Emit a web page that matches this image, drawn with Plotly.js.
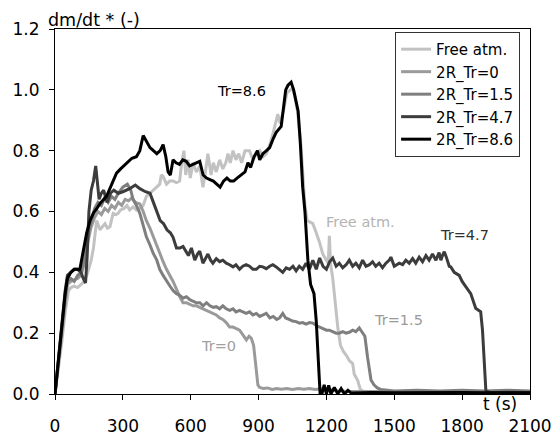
<!DOCTYPE html>
<html>
<head>
<meta charset="utf-8">
<script src="https://cdn.plot.ly/plotly-3.0.1.min.js"></script>
<style>html,body{margin:0;padding:0;background:#fff;}#chart{width:552px;height:438px;}</style>
</head>
<body>
<div id="chart"></div>
<script>
// Series names
const seriesNames = ["Free atm.", "2R_Tr=0", "2R_Tr=1.5", "2R_Tr=4.7", "2R_Tr=8.6"];
const seriesColors = ["#c2c2c2", "#9a9a9a", "#7f7f7f", "#3c3c3c", "#000000"];

// Free atm.
const tFree = [0,15,30,45,60,70,85,100,115,130,145,160,170,184,199,210,221,232,243,257,270,279,290,305,318,330,345,360,375,390,404,420,434,450,463,470,478,493,507,522,537,551,560,570,578,588,598,610,625,640,654,665,676,690,700,713,728,742,755,765,775,787,800,812,825,840,860,875,890,905,920,935,950,965,985,995,1010,1025,1040,1050,1060,1072,1085,1095,1105,1115,1130,1140,1150,1160,1169,1184,1198,1208,1213,1218,1228,1235,1250,1262,1275,1290,1301,1316,1323,1338,1350,1365,1400,1500,1600,1700,1800,1900,2000,2100];
const vFree = [0,0.08,0.17,0.27,0.34,0.35,0.355,0.35,0.36,0.37,0.40,0.44,0.48,0.57,0.54,0.55,0.56,0.545,0.55,0.594,0.59,0.594,0.605,0.61,0.62,0.605,0.615,0.605,0.61,0.62,0.65,0.66,0.67,0.68,0.69,0.72,0.715,0.69,0.70,0.70,0.695,0.70,0.76,0.80,0.72,0.77,0.71,0.76,0.73,0.75,0.68,0.73,0.79,0.72,0.76,0.73,0.77,0.74,0.76,0.79,0.76,0.80,0.77,0.79,0.76,0.80,0.80,0.77,0.79,0.80,0.78,0.79,0.82,0.86,0.92,0.89,0.93,0.99,1.0,1.005,0.98,0.93,0.84,0.72,0.62,0.57,0.565,0.56,0.54,0.52,0.50,0.46,0.44,0.43,0.52,0.43,0.38,0.33,0.22,0.16,0.14,0.125,0.11,0.10,0.065,0.045,0.015,0.008,0.006,0.005,0.006,0.005,0.005,0.006,0.005,0.005];

// 2R_Tr=0
const tTr0 = [0,15,30,45,55,70,85,100,115,130,145,160,175,190,205,220,235,250,265,280,295,310,325,340,355,375,390,404,420,434,450,463,478,493,508,522,537,551,566,581,596,610,625,640,655,670,685,700,713,728,742,757,772,787,800,816,830,846,858,868,878,885,890,897,904,920,940,960,980,1000,1025,1050,1075,1100,1125,1150,1175,1200,1250,1300,1400,1500,1600,1700,1800,1900,2000,2100];
const vTr0 = [0,0.1,0.2,0.3,0.36,0.37,0.375,0.38,0.39,0.43,0.5,0.55,0.58,0.6,0.59,0.61,0.6,0.62,0.61,0.63,0.62,0.64,0.635,0.645,0.63,0.625,0.6,0.57,0.545,0.517,0.49,0.46,0.435,0.41,0.39,0.37,0.345,0.32,0.3,0.3,0.295,0.29,0.29,0.285,0.28,0.275,0.27,0.265,0.26,0.25,0.245,0.235,0.22,0.22,0.215,0.21,0.195,0.178,0.19,0.183,0.16,0.11,0.068,0.03,0.022,0.018,0.02,0.015,0.018,0.016,0.018,0.015,0.018,0.016,0.018,0.015,0.017,0.016,0.01,0.008,0.008,0.007,0.008,0.007,0.008,0.007,0.008,0.007];

// 2R_Tr=1.5
const tTr15 = [0,15,30,45,55,70,85,100,115,130,145,160,175,190,205,220,235,250,265,280,300,320,335,345,360,375,390,404,420,434,450,463,478,493,508,522,537,551,566,581,596,610,625,640,655,670,685,700,713,728,742,757,772,787,800,816,830,845,860,875,890,905,920,934,950,965,980,993,1007,1020,1035,1050,1066,1081,1095,1110,1125,1140,1155,1170,1185,1200,1213,1228,1243,1257,1272,1287,1301,1316,1330,1345,1360,1370,1382,1390,1397,1410,1425,1440,1500,1600,1700,1800,1900,2000,2100];
const vTr15 = [0,0.11,0.22,0.32,0.37,0.38,0.37,0.39,0.40,0.44,0.52,0.57,0.61,0.63,0.62,0.645,0.63,0.65,0.64,0.66,0.68,0.69,0.67,0.64,0.62,0.594,0.555,0.517,0.49,0.463,0.44,0.41,0.39,0.37,0.355,0.34,0.33,0.325,0.315,0.32,0.31,0.305,0.30,0.30,0.29,0.30,0.29,0.285,0.287,0.28,0.29,0.28,0.275,0.28,0.27,0.275,0.27,0.265,0.27,0.26,0.265,0.255,0.26,0.265,0.25,0.255,0.245,0.25,0.265,0.25,0.245,0.24,0.238,0.233,0.235,0.23,0.235,0.233,0.225,0.22,0.215,0.21,0.21,0.205,0.20,0.20,0.205,0.20,0.203,0.21,0.205,0.217,0.20,0.19,0.12,0.07,0.046,0.03,0.02,0.015,0.01,0.012,0.01,0.012,0.01,0.012,0.01];

// 2R_Tr=4.7
const tTr47 = [0,15,30,45,55,70,85,100,115,125,135,142,150,160,170,180,188,195,205,215,230,245,260,280,300,330,355,375,400,420,435,450,465,480,495,510,522,537,552,566,580,590,603,618,630,640,654,665,676,688,698,713,728,742,757,772,787,800,816,830,845,860,875,890,905,919,934,949,963,978,993,1007,1022,1037,1052,1066,1080,1095,1110,1125,1140,1155,1170,1185,1200,1214,1228,1243,1257,1272,1287,1301,1316,1330,1345,1360,1375,1390,1404,1418,1433,1448,1463,1478,1485,1500,1522,1537,1551,1566,1581,1595,1610,1625,1640,1654,1669,1684,1698,1706,1713,1721,1730,1743,1750,1765,1787,1800,1816,1838,1860,1875,1882,1890,1897,1905,1920,1950,2000,2050,2100];
const vTr47 = [0,0.12,0.24,0.34,0.39,0.40,0.41,0.41,0.40,0.38,0.365,0.45,0.60,0.67,0.70,0.75,0.68,0.64,0.66,0.67,0.63,0.66,0.67,0.66,0.665,0.675,0.687,0.675,0.665,0.66,0.63,0.60,0.57,0.56,0.54,0.53,0.515,0.48,0.48,0.485,0.47,0.455,0.48,0.44,0.46,0.47,0.43,0.445,0.46,0.44,0.43,0.445,0.435,0.44,0.43,0.425,0.418,0.425,0.41,0.42,0.425,0.42,0.41,0.41,0.42,0.418,0.412,0.42,0.425,0.418,0.41,0.40,0.415,0.41,0.42,0.405,0.42,0.41,0.43,0.41,0.44,0.41,0.447,0.42,0.41,0.435,0.447,0.42,0.43,0.415,0.425,0.44,0.42,0.43,0.415,0.44,0.42,0.425,0.435,0.42,0.43,0.415,0.43,0.44,0.45,0.42,0.43,0.425,0.44,0.43,0.445,0.43,0.45,0.435,0.455,0.44,0.46,0.44,0.465,0.44,0.455,0.468,0.45,0.42,0.418,0.40,0.39,0.37,0.353,0.33,0.282,0.275,0.27,0.21,0.1,0.01,0.006,0.005,0.006,0.005,0.005];

// 2R_Tr=8.6
const tTr86 = [0,15,30,45,55,70,85,100,110,125,140,155,170,185,200,228,250,272,290,316,340,360,375,390,405,420,435,450,465,478,490,500,510,522,535,550,565,580,595,610,625,640,655,670,685,700,715,730,745,760,775,790,805,820,840,853,865,880,895,905,919,935,949,965,978,1000,1010,1020,1030,1044,1055,1066,1075,1085,1095,1105,1118,1130,1145,1155,1165,1172,1180,1190,1200,1210,1220,1235,1250,1265,1280,1295,1310,1400,1500,1600,1700,1800,1900,2000,2100];
const vTr86 = [0,0.1,0.22,0.33,0.38,0.40,0.41,0.41,0.41,0.47,0.53,0.57,0.595,0.61,0.627,0.65,0.687,0.726,0.74,0.76,0.775,0.78,0.80,0.85,0.83,0.81,0.80,0.79,0.80,0.82,0.78,0.73,0.72,0.77,0.76,0.755,0.77,0.765,0.75,0.755,0.76,0.765,0.72,0.71,0.705,0.70,0.69,0.68,0.70,0.71,0.70,0.70,0.71,0.72,0.73,0.76,0.745,0.78,0.80,0.77,0.79,0.80,0.81,0.84,0.86,0.88,0.95,1.0,1.015,1.025,1.0,0.967,0.93,0.82,0.68,0.60,0.44,0.36,0.33,0.24,0.12,0,0,0.03,0,0.028,0,0.022,0,0.018,0,0.012,0.003,0.005,0.004,0.005,0.004,0.005,0.004,0.005,0.004];

// Curve labels in the plot
const labelTexts = ["Tr=8.6", "Free atm.", "Tr=4.7", "Tr=1.5", "Tr=0"];
const labelX = [824, 1350, 1809, 1520, 723];
const labelY = [0.996, 0.564, 0.524, 0.242, 0.158];
const labelColors = ["#000000", "#b4b4b4", "#303030", "#9a9a9a", "#a0a0a0"];

const xTicks = [0, 300, 600, 900, 1200, 1500, 1800, 2100];
const yTicks = [0.0, 0.2, 0.4, 0.6, 0.8, 1.0, 1.2];

const xs = [tFree, tTr0, tTr15, tTr47, tTr86];
const ys = [vFree, vTr0, vTr15, vTr47, vTr86];

const FONT = "DejaVu Sans, sans-serif";

const traces = seriesNames.map((name, i) => ({
  type: "scatter",
  mode: "lines",
  name: name,
  x: xs[i],
  y: ys[i],
  line: {color: seriesColors[i], width: 3},
  hoverinfo: "skip"
}));

const annotations = labelTexts.map((txt, i) => ({
  x: labelX[i], y: labelY[i], xref: "x", yref: "y",
  text: txt, showarrow: false,
  xanchor: "center", yanchor: "middle",
  font: {family: FONT, size: 14.5, color: labelColors[i]}
}));

annotations.push({
  x: 0.082, y: 1.025, xref: "paper", yref: "paper",
  text: "dm/dt * (-)", showarrow: false,
  xanchor: "center", yanchor: "middle",
  font: {family: FONT, size: 17.5, color: "#000"}
});
annotations.push({
  x: 0.937, y: -0.027, xref: "paper", yref: "paper",
  text: "t (s)", showarrow: false,
  xanchor: "center", yanchor: "middle",
  font: {family: FONT, size: 17, color: "#000"}
});

const layout = {
  width: 552, height: 438,
  margin: {l: 55, r: 22, t: 29, b: 44, pad: 0},
  paper_bgcolor: "#fff",
  plot_bgcolor: "#fff",
  font: {family: FONT, size: 17, color: "#000"},
  showlegend: true,
  legend: {
    x: 0.716, y: 0.992, xanchor: "left", yanchor: "top",
    bgcolor: "#fff", bordercolor: "#333", borderwidth: 1,
    font: {family: FONT, size: 15, color: "#000"},
    itemwidth: 30, tracegroupgap: 0
  },
  xaxis: {
    range: [0, 2100], tickvals: xTicks, ticktext: xTicks.map(String),
    showgrid: false, zeroline: false,
    showline: true, linecolor: "#000", linewidth: 1, mirror: true,
    ticks: "outside", ticklen: 5, tickcolor: "#000", tickwidth: 1,
    tickfont: {family: FONT, size: 17, color: "#000"},
    ticklabelstandoff: 12,
    fixedrange: true
  },
  yaxis: {
    range: [0, 1.2], tickvals: yTicks, ticktext: yTicks.map(v => v.toFixed(1)),
    showgrid: false, zeroline: false,
    showline: true, linecolor: "#000", linewidth: 1, mirror: true,
    ticks: "outside", ticklen: 5, tickcolor: "#000", tickwidth: 1,
    tickfont: {family: FONT, size: 17, color: "#000"},
    ticklabelstandoff: 6,
    fixedrange: true
  },
  annotations: annotations
};

Plotly.newPlot("chart", traces, layout, {displayModeBar: false, staticPlot: true});
</script>
</body>
</html>
